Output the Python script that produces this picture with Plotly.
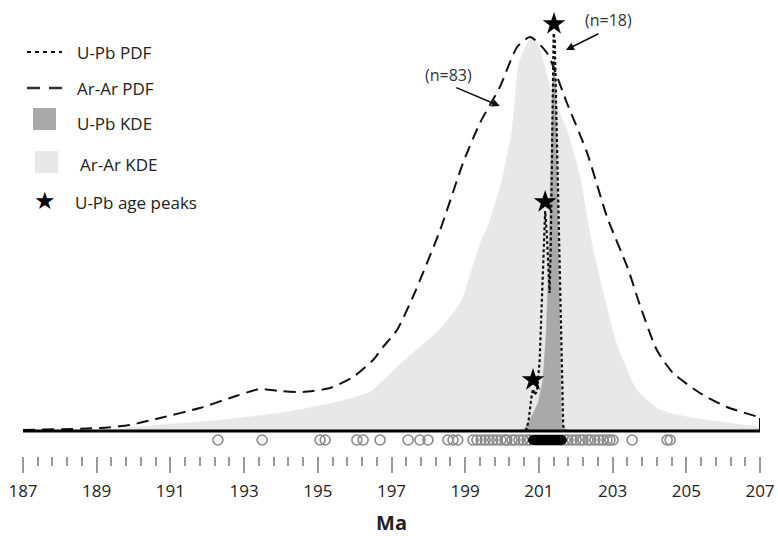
import plotly.graph_objects as go

# ---------------- data (Ma, relative density) ----------------
arar_pdf_x = [187.0, 189.09, 189.90, 190.72, 191.80, 192.62, 193.43, 193.97, 194.60, 195.33,
              195.96, 196.50, 196.77, 197.15, 197.58, 198.32, 198.94, 199.40, 199.94, 200.41,
              200.76, 201.22, 201.76, 202.31, 202.85, 203.41, 203.74, 204.20, 204.64, 205.37,
              206.10, 206.95, 207.0]
arar_pdf_y = [0.01, 0.03, 0.06, 0.13, 0.23, 0.33, 0.42, 0.40, 0.39, 0.43,
              0.54, 0.71, 0.84, 1.01, 1.34, 2.01, 2.68, 3.08, 3.44, 3.84,
              3.94, 3.78, 3.28, 2.78, 2.14, 1.63, 1.26, 0.81, 0.58, 0.38,
              0.24, 0.14, 0.13]

arar_kde_x = [187.0, 188.5, 189.5, 190.72, 192.35, 194.16, 195.52, 196.42, 197.15, 197.77,
              198.30, 198.90, 199.37, 199.65, 200.00, 200.27, 200.46, 200.73, 200.84, 201.03,
              201.38, 201.76, 202.11, 202.38, 202.66, 203.12, 203.66, 204.29, 205.18, 207.0]
arar_kde_y = [0.0, 0.005, 0.02, 0.06, 0.11, 0.19, 0.29, 0.39, 0.64, 0.84,
              1.01, 1.30, 1.84, 2.08, 2.51, 3.01, 3.68, 3.91, 3.94, 3.81,
              3.34, 3.01, 2.55, 1.98, 1.51, 0.86, 0.41, 0.21, 0.13, 0.04]

upb_kde_x = [200.43, 200.60, 200.76, 200.98, 201.11, 201.20, 201.26, 201.30, 201.34, 201.38,
             201.42, 201.46, 201.50, 201.54, 201.57, 201.61, 201.65, 201.84]
upb_kde_y = [0.0, 0.02, 0.11, 0.28, 0.51, 1.0, 1.6, 2.3, 3.0, 3.55,
             3.72, 3.4, 2.5, 1.5, 0.7, 0.15, 0.03, 0.0]

upb_pdf_x = [200.65, 200.72, 200.79, 200.84, 200.88, 200.95, 201.02, 201.08, 201.13, 201.17,
             201.21, 201.26, 201.29, 201.32, 201.36, 201.40, 201.43, 201.47, 201.52, 201.57,
             201.61, 201.63, 201.66, 201.72]
upb_pdf_y = [0.0, 0.10, 0.32, 0.42, 0.36, 0.40, 0.7, 1.3, 1.95, 2.2,
             2.0, 1.5, 1.38, 1.8, 3.0, 3.98, 3.9, 3.2, 2.5, 1.8,
             1.0, 0.4, 0.05, 0.0]

peak_ages = [201.41, 201.17, 200.84]
peak_heights = [4.07, 2.29, 0.51]

arar_ages = [192.29, 193.49, 195.06, 195.20, 196.06, 196.23, 196.69, 197.45, 197.77, 197.99,
             198.53, 198.67, 198.80, 199.21, 199.32, 199.43, 199.54, 199.65, 199.75, 199.86,
             199.97, 200.08, 200.13, 200.27, 200.35, 200.46, 200.57, 200.68, 200.76, 200.90,
             201.00, 201.10, 201.20, 201.30, 201.40, 201.50, 201.60, 201.71, 201.79, 201.90,
             202.01, 202.12, 202.20, 202.33, 202.41, 202.52, 202.63, 202.74, 202.85, 202.93,
             203.01, 203.53, 204.48, 204.56]
upb_ages = [200.84, 200.90, 200.96, 201.02, 201.08, 201.12, 201.17, 201.20, 201.24, 201.28,
            201.32, 201.36, 201.40, 201.43, 201.47, 201.51, 201.56, 201.62]

tick_vals = [187, 189, 191, 193, 195, 197, 199, 201, 203, 205, 207]
tick_text = [str(v) for v in tick_vals]

legend_labels = ["U-Pb PDF", "Ar-Ar PDF", "U-Pb KDE", "Ar-Ar KDE", "U-Pb age peaks"]

# ---------------- figure ----------------
FONT = "Open Sans"
W, H = 778, 536
ML, MR, MT, MB = 23, 18, 0, 80
PW, PH = W - ML - MR, H - MT - MB


def px(x):
    return (x - ML) / PW


def py(y):
    return (H - MB - y) / PH


fig = go.Figure()

fig.add_trace(go.Scatter(x=arar_kde_x, y=arar_kde_y, mode="lines", fill="tozeroy",
                         fillcolor="#e8e8e8", line=dict(color="#e8e8e8", width=0.5, shape="spline", smoothing=0.5),
                         hoverinfo="skip", showlegend=False))
fig.add_trace(go.Scatter(x=upb_kde_x, y=upb_kde_y, mode="lines", fill="tozeroy",
                         fillcolor="#a9a9a9", line=dict(color="#a9a9a9", width=0.5),
                         hoverinfo="skip", showlegend=False))
fig.add_trace(go.Scatter(x=arar_pdf_x, y=arar_pdf_y, mode="lines",
                         line=dict(color="#111", width=2, dash="12px,7px", shape="spline", smoothing=0.6),
                         hoverinfo="skip", showlegend=False))
fig.add_trace(go.Scatter(x=upb_pdf_x, y=upb_pdf_y, mode="lines",
                         line=dict(color="#111", width=2.2, dash="3px,2.5px"),
                         hoverinfo="skip", showlegend=False))

# baseline and right edge
fig.add_shape(type="line", x0=187, x1=207, y0=0, y1=0, line=dict(color="black", width=3))
fig.add_shape(type="line", x0=207, x1=207, y0=0, y1=arar_pdf_y[-1], line=dict(color="black", width=2))

# ages
fig.add_trace(go.Scatter(x=arar_ages, y=[-0.09] * len(arar_ages), mode="markers",
                         marker=dict(symbol="circle-open", size=10, color="#8a8a8a", line=dict(width=1.6)),
                         hoverinfo="skip", showlegend=False))
fig.add_trace(go.Scatter(x=upb_ages, y=[-0.09] * len(upb_ages), mode="markers",
                         marker=dict(symbol="circle", size=10, color="black"),
                         hoverinfo="skip", showlegend=False))
fig.add_trace(go.Scatter(x=peak_ages, y=peak_heights, mode="markers",
                         marker=dict(symbol="star", size=17, color="black"),
                         hoverinfo="skip", showlegend=False))

# annotations
fig.add_annotation(x=px(608), y=py(20), xref="paper", yref="paper", text="(n=18)",
                   xanchor="center", yanchor="middle",
                   showarrow=False, font=dict(family=FONT, size=16, color="#333"))
fig.add_annotation(x=201.735, y=3.81, text="", showarrow=True, ax=34, ay=-17,
                   arrowhead=2, arrowsize=1, arrowwidth=1.6, arrowcolor="#111")
fig.add_annotation(x=px(448), y=py(75), xref="paper", yref="paper", text="(n=83)",
                   xanchor="center", yanchor="middle",
                   showarrow=False, font=dict(family=FONT, size=16, color="#333"))
fig.add_annotation(x=199.94, y=3.25, text="", showarrow=True, ax=-45, ay=-19,
                   arrowhead=2, arrowsize=1, arrowwidth=1.6, arrowcolor="#111")

# custom legend
leg_y = [52, 88, 120, 162, 201]
fig.add_shape(type="line", xref="paper", yref="paper", x0=px(27), x1=px(62), y0=py(leg_y[0]), y1=py(leg_y[0]),
              line=dict(color="#111", width=2, dash="4px,4px"))
fig.add_shape(type="line", xref="paper", yref="paper", x0=px(27), x1=px(62), y0=py(leg_y[1]), y1=py(leg_y[1]),
              line=dict(color="#333", width=2.5, dash="13px,9px"))
fig.add_shape(type="rect", xref="paper", yref="paper", x0=px(33), x1=px(56), y0=py(108), y1=py(130),
              fillcolor="#a9a9a9", line=dict(width=0))
fig.add_shape(type="rect", xref="paper", yref="paper", x0=px(35), x1=px(58), y0=py(151), y1=py(173),
              fillcolor="#e8e8e8", line=dict(width=0))
fig.add_annotation(x=px(45), y=py(leg_y[4]), xref="paper", yref="paper", text="★", showarrow=False,
                   xanchor="center", yanchor="middle",
                   font=dict(family="DejaVu Sans", size=24, color="black"))
leg_tx = [75, 75, 75, 78, 73]
leg_ty = [52, 88, 124, 164, 202]
for lab, tx, ty in zip(legend_labels, leg_tx, leg_ty):
    fig.add_annotation(x=px(tx), y=py(ty), xref="paper", yref="paper", text=lab, showarrow=False,
                       xanchor="left", yanchor="middle", font=dict(family=FONT, size=17, color="#222"))

fig.update_layout(
    width=W, height=H, margin=dict(l=ML, r=MR, t=MT, b=MB),
    plot_bgcolor="white", paper_bgcolor="white",
    xaxis=dict(range=[187, 207], tickvals=tick_vals, ticktext=tick_text, ticks="outside",
               ticklen=16, tickwidth=1.5, tickcolor="#999", showgrid=False, zeroline=False,
               showline=False, tickfont=dict(family=FONT, size=17, color="#222"),
               ticklabelstandoff=4,
               minor=dict(tick0=187, dtick=0.4, ticks="outside", ticklen=9, tickwidth=1.5, tickcolor="#999"),
               title=dict(text="<b>Ma</b>", font=dict(family=FONT, size=20, color="#222"), standoff=14)),
    yaxis=dict(range=[-0.25, 4.31], visible=False, showgrid=False, zeroline=False),
)

fig.write_html("out.html")
